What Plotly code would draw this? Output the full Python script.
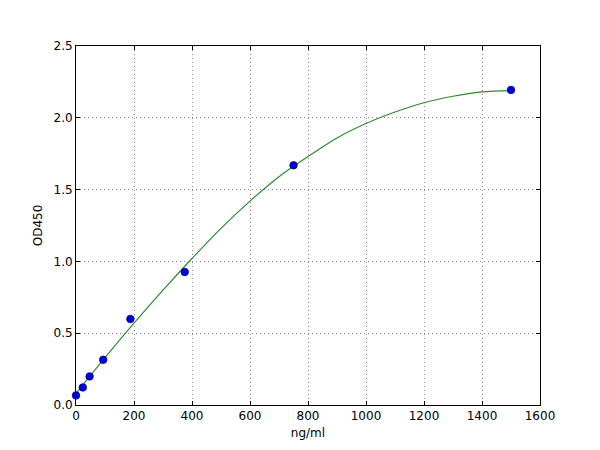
import plotly.graph_objects as go

# standard points
conc = [0, 23.44, 46.88, 93.75, 187.5, 375, 750, 1500]
od = [0.067, 0.122, 0.199, 0.315, 0.599, 0.926, 1.669, 2.194]

# fitted curve
curve_x = [0, 100, 200, 300, 400, 500, 600, 700, 800, 900, 1000, 1100, 1200, 1300, 1400, 1500]
curve_y = [0.08, 0.33, 0.57, 0.80, 1.02, 1.23, 1.42, 1.59, 1.73, 1.86, 1.96, 2.04, 2.105, 2.15, 2.18, 2.19]

x_ticks = [0, 200, 400, 600, 800, 1000, 1200, 1400, 1600]
y_ticks = [0.0, 0.5, 1.0, 1.5, 2.0, 2.5]

fig = go.Figure()
fig.add_trace(go.Scatter(
    x=curve_x, y=curve_y, mode="lines",
    line=dict(color="#2e8b2e", width=1.2, shape="spline", smoothing=1.0),
    hoverinfo="skip"))
fig.add_trace(go.Scatter(
    x=conc, y=od, mode="markers", cliponaxis=False,
    marker=dict(color="#0000e0", size=7.5, line=dict(color="#000080", width=0.8))))

axis_style = dict(
    showline=True, linecolor="black", linewidth=1, mirror="ticks",
    ticks="inside", ticklen=4, tickcolor="black",
    showgrid=True, gridcolor="#888888", griddash="1px,3px", gridwidth=1,
    zeroline=False, tickfont=dict(size=12, color="black"),
)

fig.update_xaxes(range=[0, 1600], tickvals=x_ticks, ticktext=[str(v) for v in x_ticks],
                 title=dict(text="ng/ml", font=dict(size=12, color="black"), standoff=6),
                 **axis_style)
fig.update_yaxes(range=[0, 2.5], tickvals=y_ticks, ticktext=["%.1f" % v for v in y_ticks],
                 title=dict(text="OD450", font=dict(size=12, color="black"), standoff=8),
                 **axis_style)

fig.update_layout(
    width=592, height=442,
    margin=dict(l=68, r=60, t=38, b=45),
    plot_bgcolor="white", paper_bgcolor="white",
    font=dict(family="DejaVu Sans", size=12, color="black"),
    showlegend=False,
)

fig.write_html("out.html")
